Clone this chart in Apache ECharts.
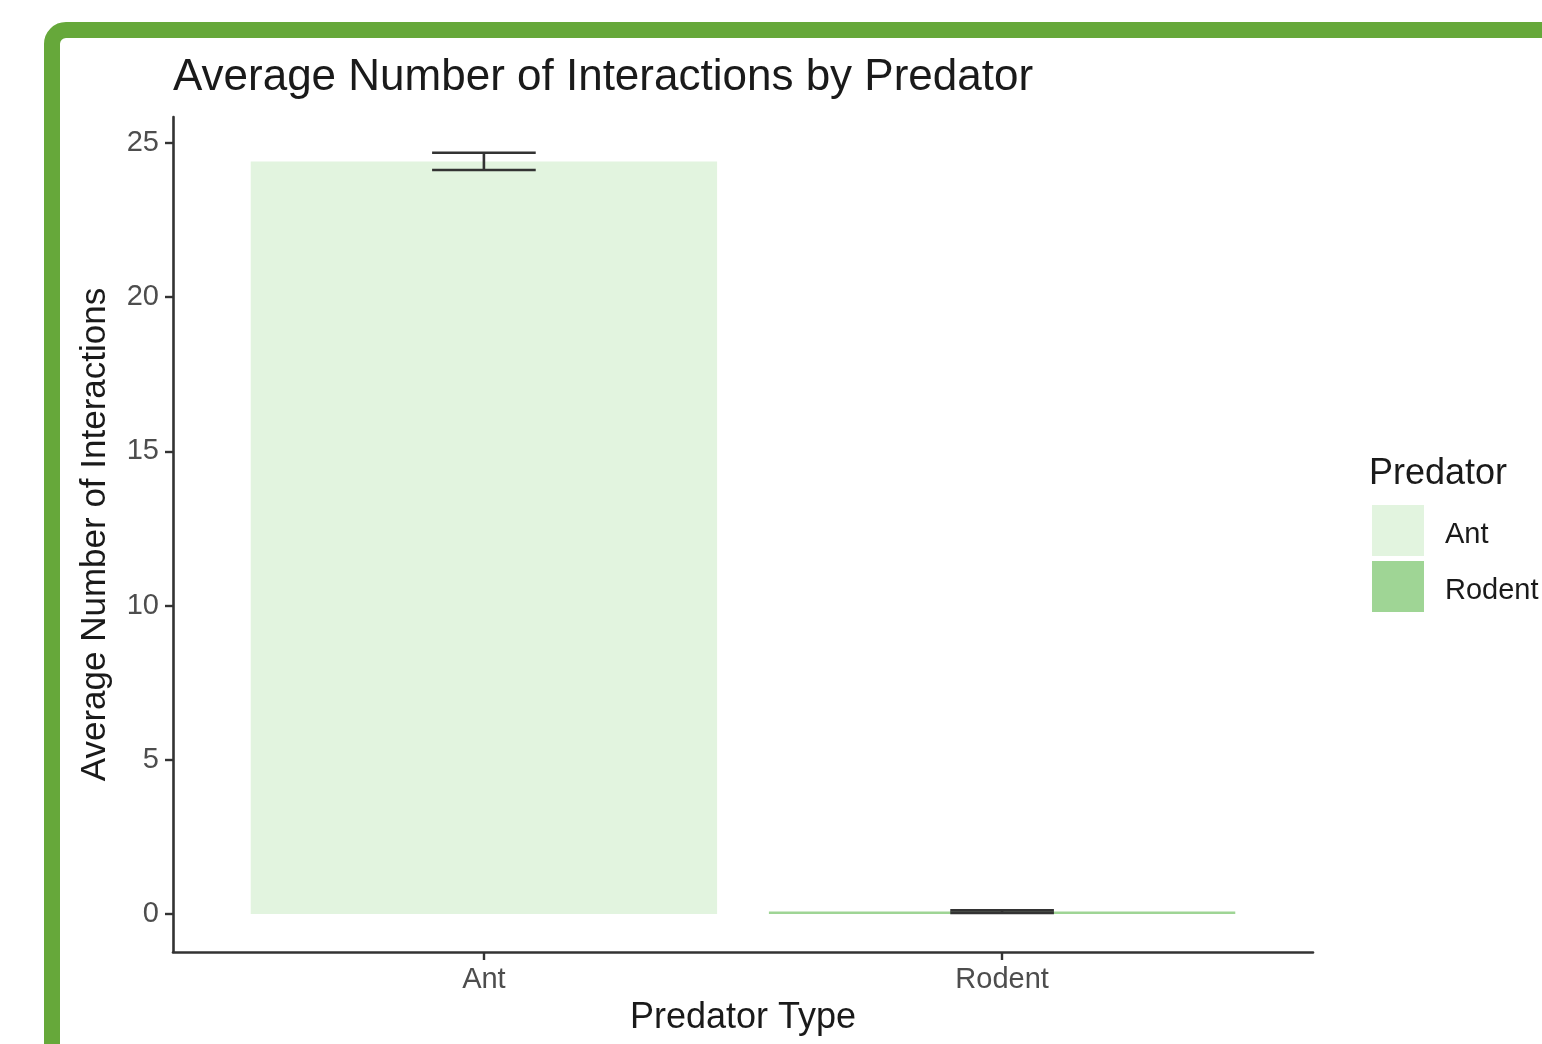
<!DOCTYPE html>
<html>
<head>
<meta charset="utf-8">
<script src="https://cdn.jsdelivr.net/npm/echarts@6/dist/echarts.min.js"></script>
<style>
  html, body { margin: 0; padding: 0; background: #fff; overflow: hidden; }
  #chart { width: 1542px; height: 1044px; }
</style>
</head>
<body>
<div id="chart"></div>
<script>
// Predator categories and their summary statistics
const categories = ['Ant', 'Rodent'];
const meanValues = [24.4, 0.08];
const seValues = [0.28, 0.04];
const fillColors = ['#E2F4DF', '#9FD595'];
const yTicks = [0, 5, 10, 15, 20, 25];
const xTicks = [1, 2];

const font = '"Liberation Sans", Arial, Helvetica, sans-serif';
const chart = echarts.init(document.getElementById('chart'));

// one custom series per predator so each gets its own legend entry
const barSeries = categories.map((name, i) => ({
  name: name,
  type: 'custom',
  itemStyle: { color: fillColors[i] },
  data: [[i + 1, meanValues[i]]],
  renderItem: function (params, api) {
    const x = api.value(0);
    const y = api.value(1);
    const p0 = api.coord([x - 0.45, 0]);
    const p1 = api.coord([x + 0.45, y]);
    return {
      type: 'rect',
      shape: { x: p0[0], y: p1[1], width: p1[0] - p0[0], height: p0[1] - p1[1] },
      style: { fill: fillColors[i] }
    };
  }
}));

const errorSeries = {
  name: 'se',
  type: 'custom',
  z: 5,
  data: categories.map((c, i) => [i + 1, meanValues[i] - seValues[i], meanValues[i] + seValues[i]]),
  renderItem: function (params, api) {
    const x = api.value(0);
    const lo = api.coord([x, api.value(1)]);
    const hi = api.coord([x, api.value(2)]);
    const half = api.size([0.1, 0])[0];
    const st = { stroke: '#333333', lineWidth: 2.6 };
    return {
      type: 'group',
      children: [
        { type: 'line', shape: { x1: lo[0], y1: lo[1], x2: hi[0], y2: hi[1] }, style: st },
        { type: 'line', shape: { x1: lo[0] - half, y1: lo[1], x2: lo[0] + half, y2: lo[1] }, style: st },
        { type: 'line', shape: { x1: hi[0] - half, y1: hi[1], x2: hi[0] + half, y2: hi[1] }, style: st }
      ]
    };
  }
};

chart.setOption({
  animation: false,
  backgroundColor: '#ffffff',
  title: {
    text: 'Average Number of Interactions by Predator',
    left: 168, top: 51,
    textStyle: { fontFamily: font, fontSize: 44, fontWeight: 'normal', color: '#1a1a1a' }
  },
  legend: {
    data: categories,
    orient: 'vertical',
    left: 1372, top: 505, padding: 0,
    itemWidth: 52, itemHeight: 51, itemGap: 5,
    icon: 'rect',
    formatter: '{lbl|{name}}',
    textStyle: {
      fontFamily: font, fontSize: 29, color: '#1a1a1a',
      rich: { lbl: { fontFamily: font, fontSize: 29, color: '#1a1a1a', padding: [9, 0, 0, 16] } }
    }
  },
  grid: { left: 173, width: 1140, top: 117, height: 835, containLabel: false },
  xAxis: {
    type: 'value',
    min: 0.4, max: 2.6,
    splitLine: { show: false },
    axisLine: { show: true, onZero: false, lineStyle: { color: '#333333', width: 2.6 } },
    axisTick: { show: true, customValues: xTicks, length: 8, lineStyle: { color: '#333333', width: 2.4 } },
    axisLabel: {
      customValues: xTicks, margin: 13,
      fontFamily: font, fontSize: 29, color: '#4d4d4d',
      formatter: v => categories[Math.round(v) - 1] || ''
    },
    name: 'Predator Type',
    nameLocation: 'middle', nameGap: 48,
    nameTextStyle: { fontFamily: font, fontSize: 36, color: '#1a1a1a' }
  },
  yAxis: {
    type: 'value',
    min: -1.23, max: 25.84,
    splitLine: { show: false },
    axisLine: { show: true, onZero: false, lineStyle: { color: '#333333', width: 2.6 } },
    axisTick: { show: true, customValues: yTicks, length: 8, lineStyle: { color: '#333333', width: 2.4 } },
    axisLabel: {
      customValues: yTicks, margin: 14,
      fontFamily: font, fontSize: 29, color: '#4d4d4d'
    },
    name: 'Average Number of Interactions',
    nameLocation: 'middle', nameGap: 60, nameRotate: 90,
    nameTextStyle: { fontFamily: font, fontSize: 35, color: '#1a1a1a' }
  },
  graphic: [
    {
      type: 'rect',
      shape: { x: 52, y: 30, width: 2400, height: 2400, r: 14 },
      style: { fill: 'none', stroke: '#66A83A', lineWidth: 16 },
      z: 100
    },
    {
      type: 'text',
      left: 1369, top: 456,
      style: { text: 'Predator', fontFamily: font, fontSize: 36, fill: '#1a1a1a' }
    }
  ],
  series: [...barSeries, errorSeries]
});
</script>
</body>
</html>
